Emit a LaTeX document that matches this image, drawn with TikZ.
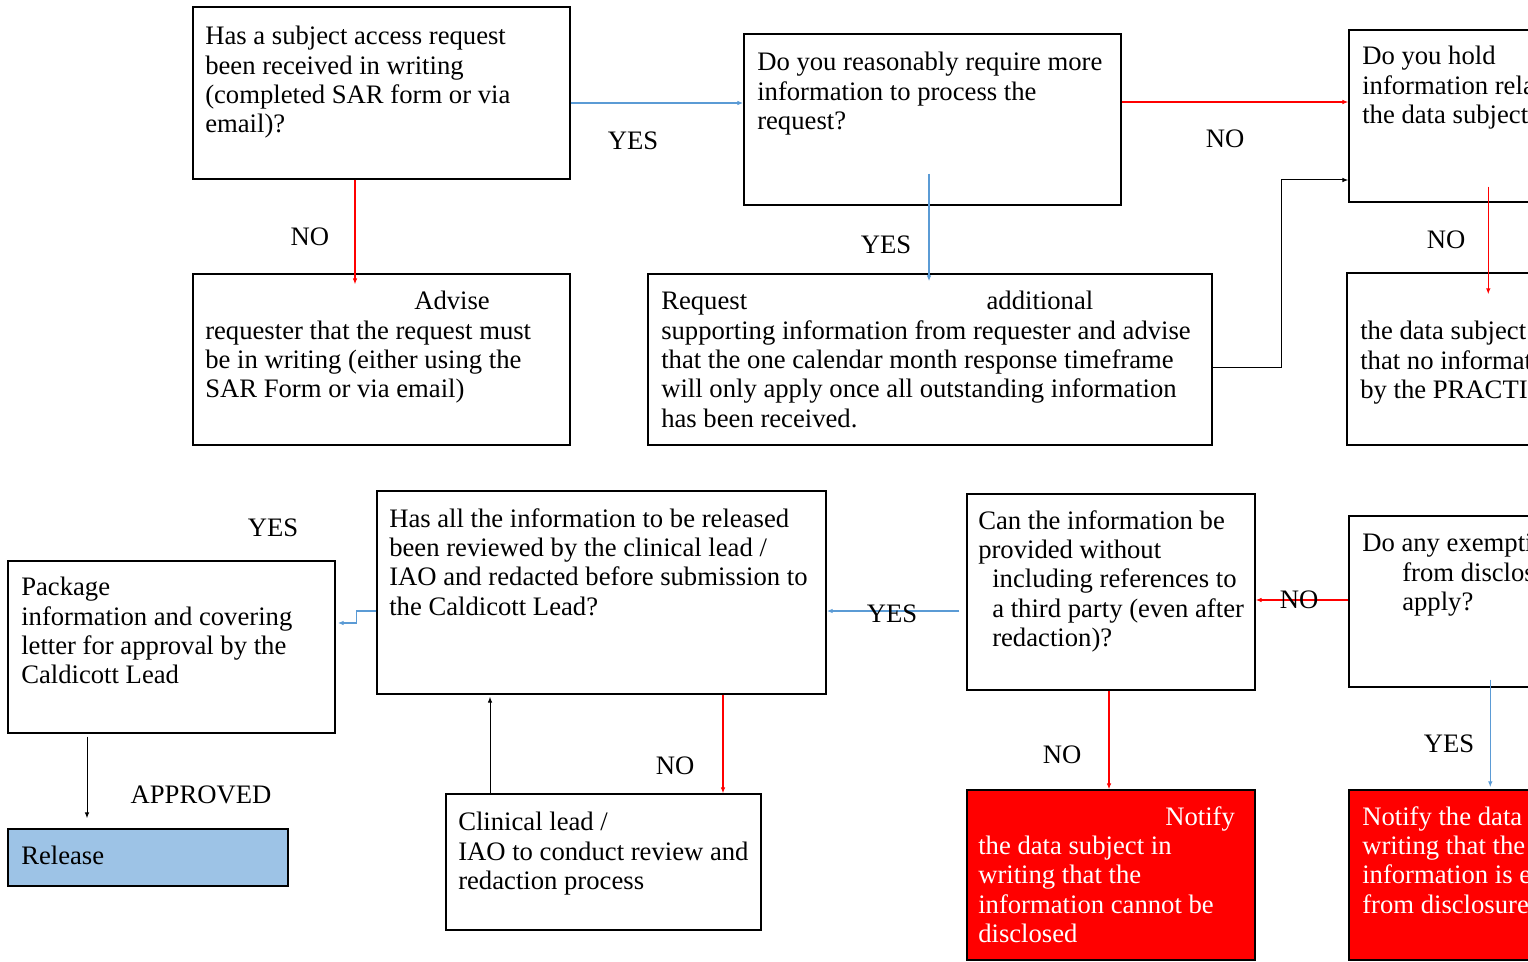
\documentclass[tikz,border=0pt]{standalone}
\usepackage{fontspec}
\setmainfont{Liberation Serif}
\usetikzlibrary{arrows.meta,fit,calc}
\definecolor{yesblue}{HTML}{5B9BD5}
\definecolor{releasefill}{HTML}{9DC3E6}
\tikzset{
  box/.style={draw, line width=1.1pt, inner sep=0pt},
  redbox/.style={box, fill=red},
  releasebox/.style={box, fill=releasefill},
  txt/.style={anchor=north west, inner sep=0pt, align=left, font=\fontsize{20}{22}\selectfont},
  lbl/.style={inner sep=0pt, font=\fontsize{20}{22}\selectfont},
  yesline/.style={draw=yesblue, line width=0.9pt, -{Latex[length=4.5pt,width=3.5pt]}},
  noline/.style={draw=red, line width=0.8pt, -{Latex[length=4.5pt,width=3.5pt]}},
  plainline/.style={draw=black, line width=0.75pt, -{Latex[length=4.5pt,width=3.5pt]}}
}
\begin{document}
\begin{tikzpicture}[x=0.75pt,y=-0.75pt]
\useasboundingbox (0,0) rectangle (1528,962);
\clip (0,0) rectangle (1528,962);
% Boxes of the top row
\node[box, fit={(193,7) (570,179)}] (sar) {};
\node[box, fit={(744,34) (1121,205)}] (more) {};
\node[box, fit={(1349,30) (1640,202)}] (hold) {};
\node[box, fit={(193,274) (570,445)}] (advise) {};
\node[box, fit={(648,274) (1212,445)}] (request) {};
\node[box, fit={(1347,273) (1640,445)}] (dsub) {};
% Boxes of the bottom row
\node[box, fit={(377,491) (826,694)}] (hasall) {};
\node[box, fit={(8,561) (335,733)}] (package) {};
\node[box, fit={(967,494) (1255,690)}] (canbe) {};
\node[box, fit={(1349,516) (1640,687)}] (exempt) {};
\node[releasebox, fit={(8,829) (288,886)}] (release) {};
\node[box, fit={(446,794) (761,930)}] (clinical) {};
\node[redbox, fit={(967,790) (1255,960)}] (ncannot) {};
\node[redbox, fit={(1349,790) (1640,960)}] (nexempt) {};
% Texts in the boxes
\node[txt] (sartxt) at (205,26) {Has a subject access request\\been received in writing\\(completed SAR form or via\\email)?};
\node[txt] (moretxt) at (757,52) {Do you reasonably require more\\information to process the\\request?};
\node[txt] (holdtxt) at (1362,46) {Do you hold\\information relating to\\the data subject?};
\node[txt] (advisetxt) at (205,291) {\hspace*{156.75pt}Advise\\requester that the request must\\be in writing (either using the\\SAR Form or via email)};
\node[txt] (requesttxt) at (661,291) {\hbox to 324pt{Request\hfill additional}\\supporting information from requester and advise\\that the one calendar month response timeframe\\will only apply once all outstanding information\\has been received.};
\node[txt] (dsubtxt) at (1360,321) {the data subject in writing\\that no information is held\\by the PRACTICE};
\node[txt] (hasalltxt) at (389,508) {Has all the information to be released\\been reviewed by the clinical lead /\\IAO and redacted before submission to\\the Caldicott Lead?};
\node[txt] (packagetxt) at (21,577) {Package\\information and covering\\letter for approval by the\\Caldicott Lead};
\node[txt] (canbetxt) at (978,510) {Can the information be\\provided without\\\hspace*{10.5pt}including references to\\\hspace*{10.5pt}a third party (even after\\\hspace*{10.5pt}redaction)?};
\node[txt] (exempttxt) at (1362,534) {Do any exemptions\\\hspace*{30pt}from disclosure\\\hspace*{30pt}apply?};
\node[txt] (releasetxt) at (21,846) {Release};
\node[txt] (clinicaltxt) at (458,812) {Clinical lead /\\IAO to conduct review and\\redaction process};
\node[txt, text=white] (ncannottxt) at (978,806) {\hspace*{140.25pt}Notify\\the data subject in\\writing that the\\information cannot be\\disclosed};
\node[txt, text=white] (nexempttxt) at (1362,806) {Notify the data subject in\\writing that the\\information is exempt\\from disclosure};
% Connectors
\draw[yesline] ($(sar.east)+(0,10)$) -- ($(more.west)+(0,-16.5)$);
\draw[noline] ($(sar.south)+(-26.5,0)$) -- ($(advise.north)+(-26.5,11)$);
\draw[noline] ($(more.east)+(0,-17.5)$) -- ($(hold.west)+(0,-14)$);
\draw[yesline] ($(more.south)+(-3.5,-32)$) -- ($(request.north)+(-1,8)$);
\draw[plainline] ($(request.east)+(0,8.5)$) -- ++(69,0) |- ($(hold.west)+(0,64)$);
\draw[noline] ($(hold.south west)+(140,-16)$) -- ($(dsub.north west)+(142,22)$);
\draw[noline] ($(exempt.west)+(0,-1.5)$) -- ($(canbe.east)+(0,8)$);
\draw[yesline] ($(exempt.south west)+(142,-8)$) -- ($(nexempt.north west)+(142,-2)$);
\draw[yesline] ($(canbe.west)+(-7,19)$) -- ($(hasall.east)+(0,18.5)$);
\draw[noline] ($(canbe.south)+(-2,0)$) -- ($(ncannot.north)+(-2,0)$);
\draw[yesline] ($(hasall.west)+(0,18.5)$) -- ++(-20,0) |- ($(package.east)+(2,-24)$);
\draw[noline] ($(hasall.south)+(121.5,0)$) -- ($(clinical.north)+(119.5,0)$);
\draw[plainline] ($(clinical.north)+(-113.5,0)$) -- ($(hasall.south)+(-111.5,2)$);
\draw[plainline] ($(package.south)+(-84.5,3)$) -- ($(release.north)+(-61,-10)$);
% Connector labels
\node[lbl] (yes1) at (633,141) {YES};
\node[lbl] (no1) at (310,237) {NO};
\node[lbl] (no2) at (1225,139) {NO};
\node[lbl] (yes2) at (886,245) {YES};
\node[lbl] (no3) at (1446,240) {NO};
\node[lbl] (no4) at (1299,600) {NO};
\node[lbl] (yes3) at (1449,744) {YES};
\node[lbl] (yes4) at (892,614) {YES};
\node[lbl] (no5) at (1062,755) {NO};
\node[lbl] (no6) at (675,766) {NO};
\node[lbl] (approved) at (201,795) {APPROVED};
\node[lbl] (yes5) at (273,528) {YES};
\end{tikzpicture}
\end{document}
